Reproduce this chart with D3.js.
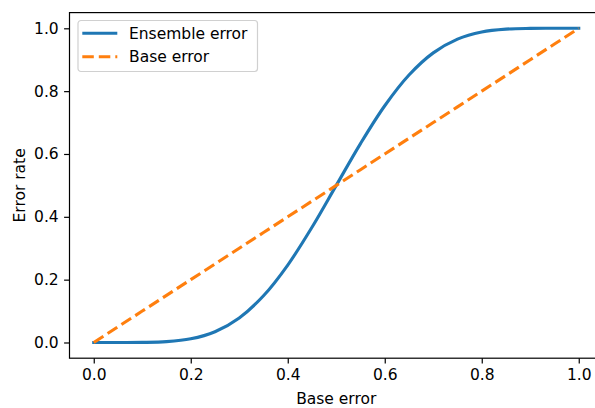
<!DOCTYPE html>
<html>
<head>
<meta charset="utf-8">
<script src="https://cdn.jsdelivr.net/npm/d3@7"></script>
<style>
  body { margin: 0; background: #fff; }
  svg { display: block; font-family: 'DejaVu Sans', sans-serif; }
</style>
</head>
<body>
<div id="chart"></div>
<script>
// base error of a single classifier (x axis)
const baseError = [0.00, 0.05, 0.10, 0.15, 0.20, 0.25, 0.30, 0.35, 0.40, 0.45, 0.50,
                   0.55, 0.60, 0.65, 0.70, 0.75, 0.80, 0.85, 0.90, 0.95, 1.00];
// ensemble error
const ensembleError = [0.0000, 0.0000, 0.0003, 0.0027, 0.0117, 0.0343, 0.0782, 0.1487, 0.2465, 0.3669, 0.5000,
                       0.6331, 0.7535, 0.8513, 0.9218, 0.9657, 0.9883, 0.9973, 0.9997, 1.0000, 1.0000];
// dashed line: error rate equals base error
const baseLine = [0.00, 0.05, 0.10, 0.15, 0.20, 0.25, 0.30, 0.35, 0.40, 0.45, 0.50,
                  0.55, 0.60, 0.65, 0.70, 0.75, 0.80, 0.85, 0.90, 0.95, 1.00];
const xTicks = [0, 0.2, 0.4, 0.6, 0.8, 1.0];
const yTicks = [0, 0.2, 0.4, 0.6, 0.8, 1.0];
const seriesNames = ['Ensemble error', 'Base error'];

const W = 595, H = 408;
const margin = { top: 12.6, right: -8, bottom: 49.8, left: 69.5 };
const width = W - margin.left - margin.right;
const height = H - margin.top - margin.bottom;
const fontSize = 15.5;
const lw = 3.1;
const dash = '11.5,5';

const svg = d3.select('#chart')
   .append('svg')
   .attr('width', W)
   .attr('height', H);

const chart = svg.append('g')
   .attr('transform', `translate(${margin.left},${margin.top})`);

const xScale = d3.scaleLinear().domain([-0.05, 1.05]).range([0, width]);
const yScale = d3.scaleLinear().domain([-0.05, 1.05]).range([height, 0]);

const xAxis = d3.axisBottom(xScale)
   .tickValues(xTicks)
   .tickFormat(d3.format('.1f'))
   .tickSizeInner(5.4)
   .tickSizeOuter(0)
   .tickPadding(5.4);
const yAxis = d3.axisLeft(yScale)
   .tickValues(yTicks)
   .tickFormat(d3.format('.1f'))
   .tickSizeInner(5.4)
   .tickSizeOuter(0)
   .tickPadding(5.4);

const xAxisG = chart.append('g')
   .attr('transform', `translate(0,${height})`)
   .call(xAxis);
const yAxisG = chart.append('g').call(yAxis);

[xAxisG, yAxisG].forEach(g => {
   g.select('.domain').remove();
   g.selectAll('.tick line').attr('stroke', '#000').attr('stroke-width', 1.2);
   g.selectAll('.tick text')
      .attr('fill', '#000')
      .attr('font-size', fontSize)
      .attr('font-family', 'DejaVu Sans');
});

// lines
const ensembleData = baseError.map((x, i) => ({ x, y: ensembleError[i] }));
const baseData = baseError.map((x, i) => ({ x, y: baseLine[i] }));

const line = d3.line()
   .x(d => xScale(d.x))
   .y(d => yScale(d.y))
   .curve(d3.curveCatmullRom.alpha(0.5));

chart.append('path')
   .datum(ensembleData)
   .attr('fill', 'none')
   .attr('stroke', '#1f77b4')
   .attr('stroke-width', lw)
   .attr('stroke-linecap', 'square')
   .attr('d', line);

chart.append('path')
   .datum(baseData)
   .attr('fill', 'none')
   .attr('stroke', '#ff7f0e')
   .attr('stroke-width', lw)
   .attr('stroke-dasharray', dash)
   .attr('d', d3.line().x(d => xScale(d.x)).y(d => yScale(d.y)));

// spines
chart.append('rect')
   .attr('x', 0)
   .attr('y', 0)
   .attr('width', width)
   .attr('height', height)
   .attr('fill', 'none')
   .attr('stroke', '#000')
   .attr('stroke-width', 1.2);

// axis titles
svg.append('text')
   .attr('x', margin.left + width / 2)
   .attr('y', 404.3)
   .attr('text-anchor', 'middle')
   .attr('font-size', fontSize)
   .text('Base error');

svg.append('text')
   .attr('transform', `translate(25,${margin.top + height / 2}) rotate(-90)`)
   .attr('text-anchor', 'middle')
   .attr('font-size', fontSize)
   .text('Error rate');

// legend
const legend = svg.append('g').attr('transform', 'translate(78,20.5)');
legend.append('rect')
   .attr('width', 179.5)
   .attr('height', 51)
   .attr('rx', 3)
   .attr('fill', '#fff')
   .attr('fill-opacity', 0.8)
   .attr('stroke', '#d0d0d0')
   .attr('stroke-width', 1.2);

const legendItems = legend.selectAll('.legend-item')
   .data(seriesNames)
   .join('g')
   .attr('class', 'legend-item')
   .attr('transform', (d, i) => `translate(0,${12.8 + i * 23.4})`);

legendItems.append('line')
   .attr('x1', 4.3)
   .attr('x2', 39.3)
   .attr('stroke', (d, i) => i === 0 ? '#1f77b4' : '#ff7f0e')
   .attr('stroke-width', lw)
   .attr('stroke-dasharray', (d, i) => i === 0 ? null : dash);

legendItems.append('text')
   .attr('x', 51)
   .attr('dy', '0.36em')
   .attr('font-size', fontSize)
   .text(d => d);
</script>
</body>
</html>
